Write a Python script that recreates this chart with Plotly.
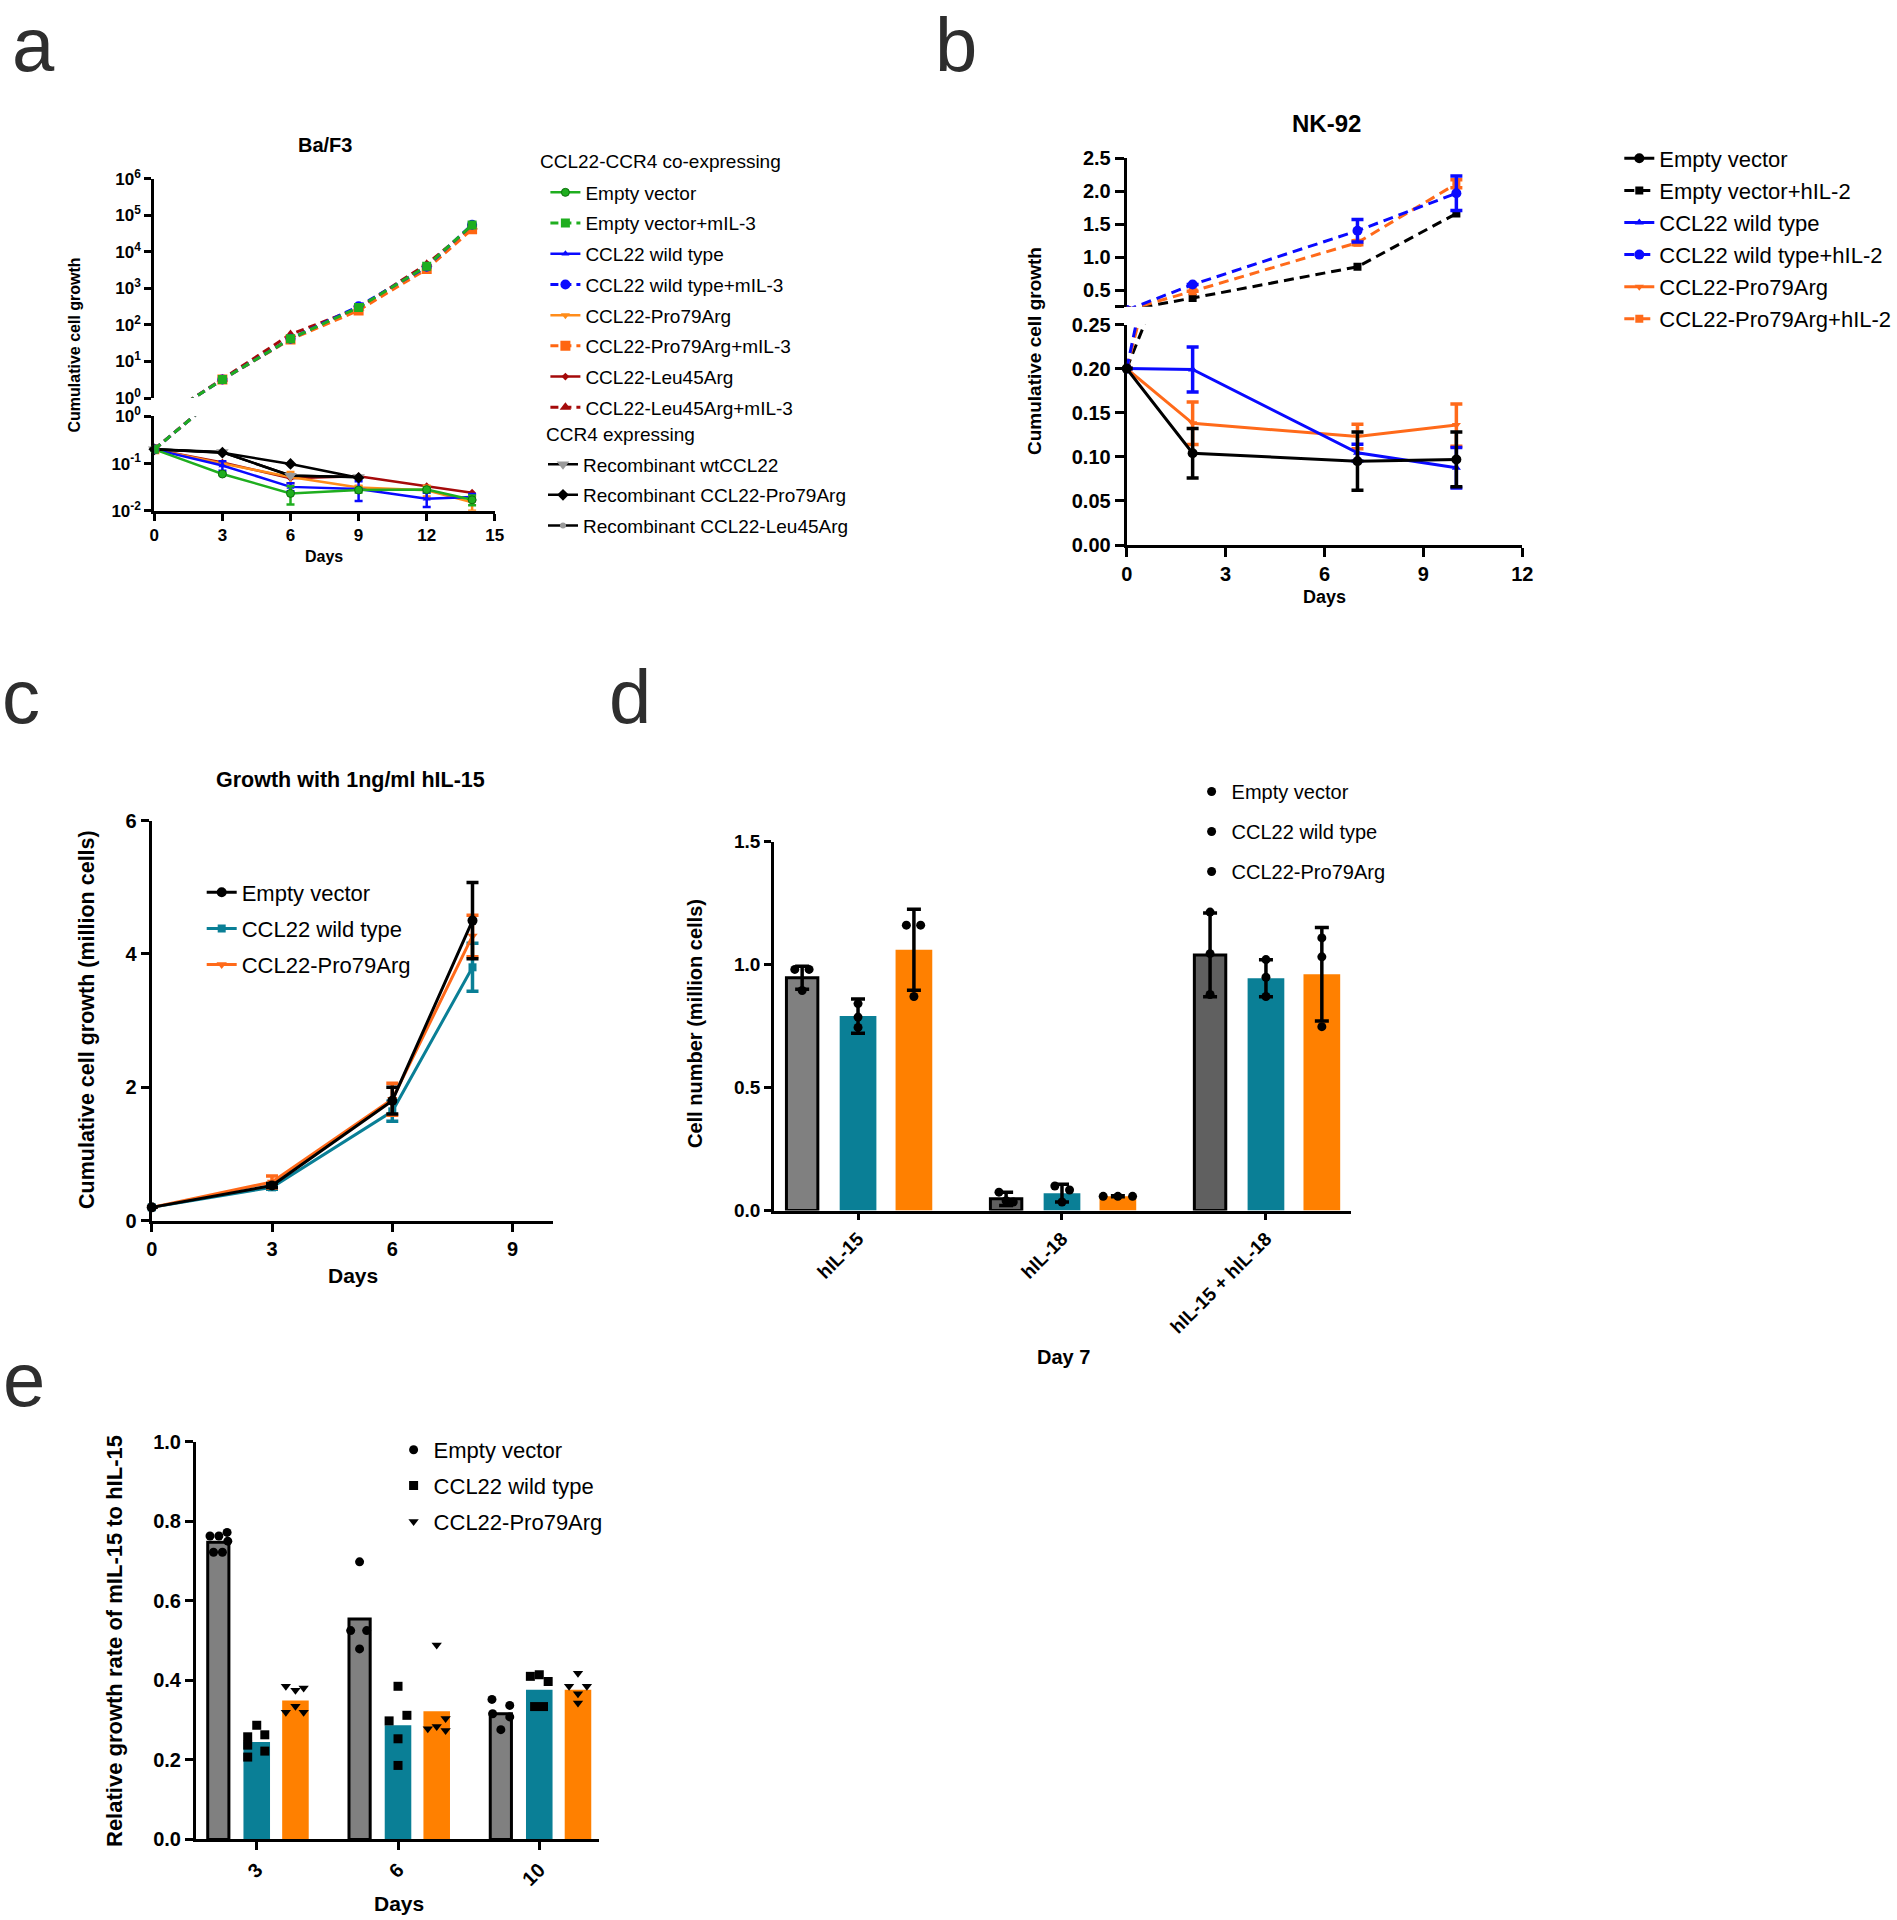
import plotly.graph_objects as go

W, H = 1897, 1920
FONT = "Liberation Sans, Arial, sans-serif"


def fx(p):
    return p / W


def fy(p):
    return 1 - p / H


# ======================= DATA =======================
# ---- Panel a : Ba/F3 ----
a_days = [0, 3, 6, 9, 12, 14]
a_rec_days = [0, 3, 6, 9]
a_ev = [0.2, 0.060, 0.0233, 0.0274, 0.028, 0.017]
a_ev_err = [0, 0.003, 0.0097, 0.003, 0.003, 0.004]
a_wt = [0.2, 0.091, 0.032, 0.029, 0.018, 0.0196]
a_wt_err = [0, 0.021, 0.006, 0.013, 0.006, 0.003]
a_pro = [0.2, 0.100, 0.052, 0.031, 0.027, 0.015]
a_pro_err = [0, 0.004, 0.014, 0.003, 0.007, 0.005]
a_leu = [0.2, 0.105, 0.049, 0.054, 0.033, 0.024]
a_ev_il3 = [0.2, 3.2, 42, 302, 4070, 54600]
a_wt_il3 = [0.2, 3.2, 42, 323, 3900, 55500]
a_pro_il3 = [0.2, 3.2, 40, 250, 3380, 41700]
a_leu_il3 = [0.2, 3.3, 55, 290, 4600, 49000]
a_rec_wt = [0.2, 0.175, 0.055, 0.052]
a_rec_pro = [0.2, 0.170, 0.098, 0.050]
a_rec_leu = [0.2, 0.172, 0.056, 0.051]
a_xticks = [0, 3, 6, 9, 12, 15]
a_low_ticks = [0.01, 0.1, 1]
a_low_labels = ["10<sup>-2</sup>", "10<sup>-1</sup>", "10<sup>0</sup>"]
a_up_ticks = [1, 10, 100, 1000, 10000, 100000, 1000000]
a_up_labels = ["10<sup>0</sup>", "10<sup>1</sup>", "10<sup>2</sup>", "10<sup>3</sup>",
               "10<sup>4</sup>", "10<sup>5</sup>", "10<sup>6</sup>"]

# ---- Panel b : NK-92 ----
b_days = [0, 2, 7, 10]
b_ev = [0.2, 0.104, 0.095, 0.097]
b_ev_err = [0, 0.028, 0.033, 0.031]
b_ev_il2 = [0.2, 0.383, 0.855, 1.66]
b_wt = [0.2, 0.199, 0.1046, 0.0876]
b_wt_err = [0, 0.0255, 0.0095, 0.023]
b_wt_il2 = [0.2, 0.586, 1.40, 1.967]
b_wt_il2_err = [0, 0.0, 0.17, 0.26]
b_pro = [0.2, 0.138, 0.123, 0.136]
b_pro_err = [0, 0.024, 0.014, 0.024]
b_pro_il2 = [0.2, 0.485, 1.22, 2.11]
b_pro_il2_err = [0, 0.0, 0.03, 0.06]
b_xticks = [0, 3, 6, 9, 12]
b_low_ticks = [0, 0.05, 0.10, 0.15, 0.20, 0.25]
b_up_ticks = [0.25, 0.5, 1.0, 1.5, 2.0, 2.5]
b_up_labels = ["", "0.5", "1.0", "1.5", "2.0", "2.5"]

# ---- Panel c : growth with hIL-15 ----
c_days = [0, 3, 6, 8]
c_ev = [0.2, 0.527, 1.80, 4.50]
c_ev_err = [0, 0.03, 0.20, 0.57]
c_wt = [0.2, 0.50, 1.64, 3.80]
c_wt_err = [0, 0.03, 0.15, 0.36]
c_pro = [0.2, 0.58, 1.82, 4.27]
c_pro_err = [0, 0.09, 0.24, 0.31]
c_xticks = [0, 3, 6, 9]
c_yticks = [0, 2, 4, 6]

# ---- Panel d : day 7 cell numbers ----
d_groups = ["hIL-15", "hIL-18", "hIL-15 + hIL-18"]
d_ev_mean = [0.947, 0.048, 1.040]
d_ev_sd = [0.047, 0.027, 0.170]
d_ev_pts = [[0.981, 0.981, 0.895], [0.075, 0.035, 0.040], [1.214, 1.045, 0.879]]
d_wt_mean = [0.791, 0.071, 0.945]
d_wt_sd = [0.070, 0.036, 0.075]
d_wt_pts = [[0.842, 0.745, 0.787], [0.100, 0.084, 0.035], [1.021, 0.949, 0.871]]
d_pro_mean = [1.061, 0.058, 0.961]
d_pro_sd = [0.165, 0.002, 0.190]
d_pro_pts = [[1.161, 1.161, 0.871], [0.058, 0.058, 0.058], [1.109, 1.032, 0.748]]
d_yticks = [0, 0.5, 1.0, 1.5]

# ---- Panel e : relative growth rate ----
e_days = ["3", "6", "10"]
e_ev_mean = [0.747, 0.554, 0.316]
e_ev_pts = [[0.763, 0.763, 0.772, 0.750, 0.722, 0.722],
            [0.698, 0.525, 0.525, 0.479],
            [0.352, 0.337, 0.316, 0.308, 0.276]]
e_wt_mean = [0.245, 0.287, 0.376]
e_wt_pts = [[0.287, 0.258, 0.263, 0.237, 0.222, 0.207],
            [0.385, 0.312, 0.298, 0.253, 0.186],
            [0.410, 0.414, 0.397, 0.334, 0.334]]
e_pro_mean = [0.349, 0.322, 0.376]
e_pro_pts = [[0.385, 0.375, 0.381, 0.320, 0.335, 0.320],
             [0.489, 0.304, 0.278, 0.284, 0.274],
             [0.418, 0.385, 0.385, 0.366, 0.343]]
e_yticks = [0, 0.2, 0.4, 0.6, 0.8, 1.0]

# ======================= STYLE =======================
GREEN = "#1fae1f"
BLUE = "#0a0aff"
ORANGE_A = "#ff8c1a"
ORANGE_R = "#ff6611"
DARKRED = "#a50a0a"
GRAY = "#9a9a9a"
TEAL = "#0a7f96"
ORANGE_C = "#ff6a1a"
ORANGE_D = "#ff8000"
GRAY_BAR = "#808080"
DGRAY_BAR = "#606060"

# jitter patterns (horizontal spread of replicate dots, in category units)
d_jit = {
    "ev": [[-0.036, 0.034, 0.0], [-0.035, 0.035, 0.0], [0.0, 0.0, 0.0]],
    "wt": [[0.0, 0.0, 0.0], [-0.035, 0.037, 0.0], [0.0, 0.0, 0.0]],
    "pro": [[-0.037, 0.033, 0.0], [-0.072, 0.0, 0.072], [0.0, 0.0, 0.0]],
}
e_jit = {
    "ev": [[-0.059, 0.004, 0.062, 0.067, -0.034, 0.029], [0.0, -0.063, 0.05, 0.0],
           [-0.063, 0.063, -0.058, 0.063, 0.0]],
    "wt": [[0.0, -0.064, 0.057, -0.064, 0.057, -0.064], [0.0, 0.063, -0.063, 0.0, 0.0],
           [-0.063, 0.0, 0.063, -0.033, 0.03]],
    "pro": [[-0.068, 0.0, 0.058, -0.068, 0.0, 0.058], [0.0, 0.063, -0.063, 0.0, 0.063],
            [0.0, -0.063, 0.063, 0.0, 0.0]],
}
D_OFF = {"ev": -0.274, "wt": 0.0, "pro": 0.274}
E_OFF = {"ev": -0.272, "wt": 0.0, "pro": 0.274}

fig = go.Figure()


def line_tr(x, y, name, color, symbol, msize, xa, ya, legend, rank, dash="solid",
            err=None, lw=2.5, mcolor=None, mline=None, showlegend=True, clip=True,
            ethick=2.5, ewidth=4, ecolor=None):
    mk = dict(symbol=symbol, size=msize, color=mcolor or color)
    mk["line"] = dict(width=mline[0], color=mline[1]) if mline else dict(width=0)
    tr = go.Scatter(
        x=x, y=y, mode="lines+markers", name=name,
        line=dict(color=color, width=lw, dash=dash), marker=mk,
        xaxis=xa, yaxis=ya, legend=legend, legendgroup=legend + name,
        legendrank=rank, showlegend=showlegend, cliponaxis=clip,
        hoverinfo="skip",
    )
    if err is not None:
        tr.error_y = dict(type="data", array=err, visible=True, color=ecolor or color,
                          thickness=ethick, width=ewidth)
    return tr


# ----------------- Panel a traces -----------------
DASH_A = "8px,5px"
fig.add_trace(line_tr(a_days, a_leu, "CCL22-Leu45Arg", DARKRED, "diamond", 6, "x", "y",
                      "legend", 7, clip=False))
fig.add_trace(line_tr(a_days, a_pro, "CCL22-Pro79Arg", ORANGE_A, "triangle-down", 8, "x", "y",
                      "legend", 5, err=a_pro_err, clip=False))
fig.add_trace(line_tr(a_days, a_wt, "CCL22 wild type", BLUE, "triangle-up", 7, "x", "y",
                      "legend", 3, err=a_wt_err, clip=False))
fig.add_trace(line_tr(a_days, a_ev, "Empty vector", GREEN, "circle", 8, "x", "y",
                      "legend", 1, err=a_ev_err, clip=False, mline=(1, "#0d6e0d")))
fig.add_trace(line_tr(a_rec_days, a_rec_leu, "Recombinant CCL22-Leu45Arg", "black", "circle", 6,
                      "x", "y", "legend2", 3, mcolor=GRAY, clip=False))
fig.add_trace(line_tr(a_rec_days, a_rec_wt, "Recombinant wtCCL22", "black", "triangle-down", 11,
                      "x", "y", "legend2", 1, mcolor=GRAY, clip=False))
fig.add_trace(line_tr(a_rec_days, a_rec_pro, "Recombinant CCL22-Pro79Arg", "black", "diamond", 9,
                      "x", "y", "legend2", 2, clip=False))
# dashed +mIL-3 series, drawn on both segments of the broken axis
a_dashed = [
    (a_leu_il3, "CCL22-Leu45Arg+mIL-3", DARKRED, "triangle-up", 10, 8),
    (a_pro_il3, "CCL22-Pro79Arg+mIL-3", ORANGE_R, "square", 10, 6),
    (a_wt_il3, "CCL22 wild type+mIL-3", BLUE, "circle", 10, 4),
    (a_ev_il3, "Empty vector+mIL-3", GREEN, "square", 9, 2),
]
for vals, nm, col, sym, ms, rk in a_dashed:
    for ya, show in (("y", True), ("y2", False)):
        fig.add_trace(line_tr(a_days, vals, nm, col, sym, ms, "x", ya, "legend", rk,
                              dash=DASH_A, lw=3, showlegend=show, clip=True))

# ----------------- Panel b traces -----------------
DASH_B = "10px,6px"
b_dashed = [
    (b_ev_il2, None, "Empty vector+hIL-2", "black", "square", 8, 2),
    (b_pro_il2, b_pro_il2_err, "CCL22-Pro79Arg+hIL-2", ORANGE_C, "square", 8, 6),
    (b_wt_il2, b_wt_il2_err, "CCL22 wild type+hIL-2", BLUE, "circle", 10, 4),
]
for vals, err, nm, col, sym, ms, rk in b_dashed:
    for ya, show in (("y3", True), ("y4", False)):
        fig.add_trace(line_tr(b_days, vals, nm, col, sym, ms, "x2", ya, "legend3", rk,
                              dash=DASH_B, lw=3, err=err, showlegend=show, clip=True,
                              ethick=3.5, ewidth=6))
fig.add_trace(line_tr(b_days, b_pro, "CCL22-Pro79Arg", ORANGE_C, "triangle-down", 8, "x2", "y3",
                      "legend3", 5, lw=3, err=b_pro_err, clip=False, ethick=3.5, ewidth=6))
fig.add_trace(line_tr(b_days, b_wt, "CCL22 wild type", BLUE, "triangle-up", 8, "x2", "y3",
                      "legend3", 3, lw=3, err=b_wt_err, clip=False, ethick=3.5, ewidth=6))
fig.add_trace(line_tr(b_days, b_ev, "Empty vector", "black", "circle", 10, "x2", "y3",
                      "legend3", 1, lw=3, err=b_ev_err, clip=False, ethick=3.5, ewidth=6))

# ----------------- Panel c traces -----------------
fig.add_trace(line_tr(c_days, c_wt, "CCL22 wild type", TEAL, "square", 8, "x3", "y5",
                      "legend4", 2, lw=3, err=c_wt_err, clip=False, ethick=3.5, ewidth=6))
fig.add_trace(line_tr(c_days, c_pro, "CCL22-Pro79Arg", ORANGE_C, "triangle-down", 9, "x3", "y5",
                      "legend4", 3, lw=3, err=c_pro_err, clip=False, ethick=3.5, ewidth=6))
fig.add_trace(line_tr(c_days, c_ev, "Empty vector", "black", "circle", 10, "x3", "y5",
                      "legend4", 1, lw=3, err=c_ev_err, clip=False, ethick=3.5, ewidth=6))

# ----------------- Panel d traces (bars + replicate dots) -----------------
d_series = [
    ("ev", "Empty vector", d_ev_mean, d_ev_sd, d_ev_pts, [GRAY_BAR, DGRAY_BAR, DGRAY_BAR], 3, 0.154),
    ("wt", "CCL22 wild type", d_wt_mean, d_wt_sd, d_wt_pts, [TEAL] * 3, 0, 0.18),
    ("pro", "CCL22-Pro79Arg", d_pro_mean, d_pro_sd, d_pro_pts, [ORANGE_D] * 3, 0, 0.18),
]
for key, nm, mean, sd, pts, cols, bw, wid in d_series:
    xs = [i + D_OFF[key] for i in range(len(d_groups))]
    fig.add_trace(go.Bar(
        x=xs, y=mean, width=wid, marker=dict(color=cols, line=dict(width=bw, color="black")),
        error_y=dict(type="data", array=sd, color="black", thickness=3.5, width=7),
        xaxis="x4", yaxis="y6", showlegend=False, hoverinfo="skip"))
for rk, (key, nm, mean, sd, pts, cols, bw, wid) in enumerate(d_series):
    px_, py_ = [], []
    for i, grp in enumerate(pts):
        for j, v in enumerate(grp):
            px_.append(i + D_OFF[key] + d_jit[key][i][j])
            py_.append(v)
    fig.add_trace(go.Scatter(
        x=px_, y=py_, mode="markers", name=nm, marker=dict(symbol="circle", size=9, color="black"),
        xaxis="x4", yaxis="y6", legend="legend5", legendgroup="d" + nm, legendrank=rk + 1,
        cliponaxis=False, hoverinfo="skip"))

# ----------------- Panel e traces -----------------
e_series = [
    ("ev", "Empty vector", e_ev_mean, e_ev_pts, GRAY_BAR, 3, 0.15, "circle"),
    ("wt", "CCL22 wild type", e_wt_mean, e_wt_pts, TEAL, 0, 0.188, "square"),
    ("pro", "CCL22-Pro79Arg", e_pro_mean, e_pro_pts, ORANGE_D, 0, 0.188, "triangle-down"),
]
for key, nm, mean, pts, col, bw, wid, sym in e_series:
    xs = [i + E_OFF[key] for i in range(len(e_days))]
    fig.add_trace(go.Bar(
        x=xs, y=mean, width=wid, marker=dict(color=col, line=dict(width=bw, color="black")),
        xaxis="x5", yaxis="y7", showlegend=False, hoverinfo="skip"))
for rk, (key, nm, mean, pts, col, bw, wid, sym) in enumerate(e_series):
    px_, py_ = [], []
    for i, grp in enumerate(pts):
        for j, v in enumerate(grp):
            px_.append(i + E_OFF[key] + e_jit[key][i][j])
            py_.append(v)
    fig.add_trace(go.Scatter(
        x=px_, y=py_, mode="markers", name=nm, marker=dict(symbol=sym, size=9, color="black"),
        xaxis="x5", yaxis="y7", legend="legend6", legendgroup="e" + nm, legendrank=rk + 1,
        cliponaxis=False, hoverinfo="skip"))


# ======================= LAYOUT =======================
def axis(size, lw=3, tl=8, tw=2.5, **kw):
    d = dict(showline=True, linecolor="black", linewidth=lw, ticks="outside", tickcolor="black",
             tickwidth=tw, ticklen=tl, showgrid=False, zeroline=False, layer="below traces",
             automargin=False,
             tickfont=dict(family=FONT, size=size, color="black", weight="bold"), fixedrange=True)
    d.update(kw)
    return d


def legend_cfg(x_left, y_top, size, gap):
    return dict(x=fx(x_left), y=fy(y_top), xanchor="left", yanchor="top", bgcolor="rgba(0,0,0,0)",
                font=dict(family=FONT, size=size, color="black"), tracegroupgap=gap,
                traceorder="grouped", itemclick=False, itemdoubleclick=False)


layout = dict(
    width=W, height=H, margin=dict(l=0, r=0, t=0, b=0, autoexpand=False),
    paper_bgcolor="white", plot_bgcolor="white",
    font=dict(family=FONT, color="black"), barmode="overlay",
    # panel a
    xaxis=axis(17, domain=[fx(154.3), fx(494.8)], range=[0, 15], anchor="y", tickvals=a_xticks, tl=7),
    yaxis=axis(17, domain=[fy(510.7), fy(416.4)], type="log", range=[-2, 0], anchor="x",
               tickvals=a_low_ticks, ticktext=a_low_labels, tl=7),
    yaxis2=axis(17, domain=[fy(398.0), fy(178.8)], type="log", range=[0, 6], anchor="x",
                tickvals=a_up_ticks, ticktext=a_up_labels, tl=7),
    # panel b
    xaxis2=axis(20, domain=[fx(1126.7), fx(1522.3)], range=[0, 12], anchor="y3", tickvals=b_xticks, tl=9),
    yaxis3=axis(20, domain=[fy(545.0), fy(324.5)], range=[0, 0.25], anchor="x2",
                tickvals=b_low_ticks, tickformat=".2f", tl=9),
    yaxis4=axis(20, domain=[fy(306.8), fy(158.0)], range=[0.25, 2.5], anchor="x2",
                tickvals=b_up_ticks, ticktext=b_up_labels, tl=9),
    # panel c
    xaxis3=axis(20, domain=[fx(151.7), fx(552.7)], range=[0, 10], anchor="y5", tickvals=c_xticks, tl=8),
    yaxis5=axis(20, domain=[fy(1220.7), fy(820.6)], range=[0, 6], anchor="x3", tickvals=c_yticks, tl=8),
    # panel d
    xaxis4=axis(19, lw=2.5, domain=[fx(774.0), fx(1350.8)], range=[-0.412, 2.416], anchor="y6",
                tickvals=[0, 1, 2], ticktext=d_groups, tickangle=-45, tl=7, layer="above traces"),
    yaxis6=axis(19, lw=2.5, domain=[fy(1210.6), fy(841.8)], range=[0, 1.5], anchor="x4",
                tickvals=d_yticks, tickformat=".1f", tl=7, layer="above traces"),
    # panel e
    xaxis5=axis(20, domain=[fx(196.0), fx(598.6)], range=[-0.43, 2.42], anchor="y7",
                tickvals=[0, 1, 2], ticktext=e_days, tickangle=-45, tl=8, layer="above traces"),
    yaxis7=axis(20, domain=[fy(1839.4), fy(1441.7)], range=[0, 1.0], anchor="x5",
                tickvals=e_yticks, tickformat=".1f", tl=8, layer="above traces"),
    # legends
    legend=legend_cfg(545.4, 173.5, 19, 3),
    legend2=legend_cfg(543, 445.3, 19, 3),
    legend3=legend_cfg(1619.3, 137.5, 22, 0.5),
    legend4=legend_cfg(201.7, 871.4, 22, 4.6),
    legend5=legend_cfg(1191.6, 772, 20, 11),
    legend6=legend_cfg(393.6, 1429, 22, 4.2),
)


def ann(text, x, y, size, angle=0, bold=True, color="black", xanchor="center", yanchor="middle",
        yref_val=None):
    return dict(text=text, x=fx(x), y=fy(y) if yref_val is None else yref_val,
                xref="paper", yref="paper", showarrow=False,
                textangle=angle, xanchor=xanchor, yanchor=yanchor,
                font=dict(family=FONT, size=size, color=color, weight="bold" if bold else "normal"))


LETTER = "#2e2e2e"
LSIZE = 76
annotations = [
    # panel titles & axis titles
    ann("Ba/F3", 325, 145, 20),
    ann("Cumulative cell growth", 73.5, 345, 16, angle=-90),
    ann("Days", 324, 556.5, 16),
    ann("CCL22-CCR4 co-expressing", 538, 161.7, 19, bold=False, xanchor="left"),
    ann("CCR4 expressing", 544, 434.8, 19, bold=False, xanchor="left"),
    ann("NK-92", 1326.5, 124, 24),
    ann("Cumulative cell growth", 1034, 351, 19, angle=-90),
    ann("Days", 1324, 596.5, 18),
    ann("Growth with 1ng/ml hIL-15", 350, 780, 21.5),
    ann("Cumulative cell growth (million cells)", 87, 1020, 21.5, angle=-90),
    ann("Days", 353, 1275, 21),
    ann("Cell number (million cells)", 695, 1024, 20, angle=-90),
    ann("Day 7", 1063, 1357, 20),
    ann("Relative growth rate of mIL-15 to hIL-15", 114, 1641, 22, angle=-90),
    ann("Days", 399, 1903.5, 21),
    # panel letters
    ann("a", 10, 0, LSIZE, bold=False, color=LETTER, xanchor="left", yanchor="top", yref_val=1.0),
    ann("b", 933, 0, LSIZE, bold=False, color=LETTER, xanchor="left", yanchor="top", yref_val=1.0),
    ann("c", 0, 723 - 0.3465 * LSIZE, LSIZE, bold=False, color=LETTER, xanchor="left"),
    ann("d", 607, 723 - 0.3465 * LSIZE, LSIZE, bold=False, color=LETTER, xanchor="left"),
    ann("e", 1, 1406 - 0.3465 * LSIZE, LSIZE, bold=False, color=LETTER, xanchor="left"),
]
layout["annotations"] = annotations

fig.update_layout(**layout)
fig.write_html("out.html", post_script="document.body.style.margin='0';",
               config={"displayModeBar": False})
